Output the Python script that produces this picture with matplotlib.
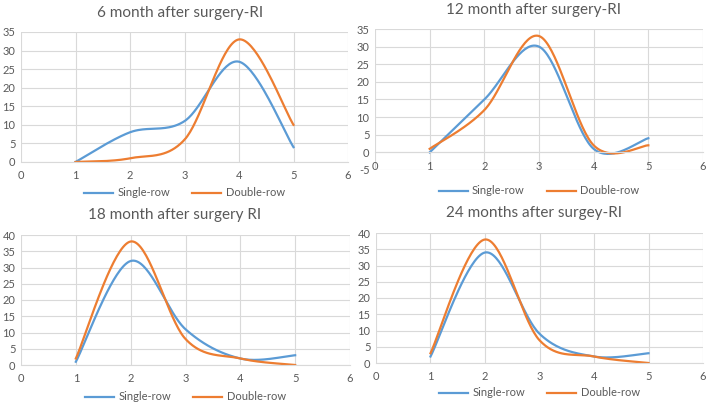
import numpy as np
from matplotlib import pyplot as plt

plt.rcParams['font.family'] = ['Lato', 'DejaVu Sans']
plt.rcParams['axes.unicode_minus'] = False

x = [1, 2, 3, 4, 5]

titles = ["6 month after surgery-RI", "12 month after surgery-RI",
          "18 month after surgery RI", "24 months after surgey-RI"]
single_6 = [0, 8, 11, 27, 4]
double_6 = [0, 1, 6, 33, 10]
single_12 = [0, 15, 30, 1, 4]
double_12 = [1, 12, 33, 2, 2]
single_18 = [1, 32, 11, 2, 3]
double_18 = [2, 38, 8, 2, 0]
single_24 = [2, 34, 9, 2, 3]
double_24 = [3, 38, 7, 2, 0]

BLUE = '#5B9BD5'
ORANGE = '#ED7D31'
GREY = '#595959'
GRID = '#D9D9D9'

W, H = 709, 404


def smooth(xs, ys, n=40):
    # excel-style smoothed line (cubic bezier, 1/6 tangents)
    p = np.column_stack([xs, ys]).astype(float)
    out = []
    for i in range(len(p) - 1):
        p0 = p[i]
        p3 = p[i + 1]
        prev = p[i - 1] if i > 0 else p[i]
        nxt = p[i + 2] if i + 2 < len(p) else p[i + 1]
        c1 = p0 + (p3 - prev) / 6
        c2 = p3 - (nxt - p0) / 6
        t = np.linspace(0, 1, n)[:, None]
        seg = ((1 - t) ** 3 * p0 + 3 * (1 - t) ** 2 * t * c1
               + 3 * (1 - t) * t ** 2 * c2 + t ** 3 * p3)
        out.append(seg if i == 0 else seg[1:])
    out = np.vstack(out)
    return out[:, 0], out[:, 1]


# pixel boxes: left, right, top, bottom ; ylim ; title pos ; legend y
panels = [
    (21, 348, 32, 162, (0, 35), (180, 13), 193, single_6, double_6),
    (375, 703, 29, 170, (-5, 35), (534, 10), 191, single_12, double_12),
    (21, 350, 235, 365, (0, 40), (175, 215), 397, single_18, double_18),
    (376, 703, 233, 363, (0, 40), (534, 213), 393, single_24, double_24),
]

fig = plt.figure(figsize=(W / 100, H / 100), dpi=100)
fig.patch.set_facecolor('white')

for k, (l, r, t, b, ylim, tpos, legy, s, d) in enumerate(panels):
    ax = fig.add_axes([l / W, 1 - b / H, (r - l) / W, (b - t) / H])
    ax.set_xlim(0, 6)
    ax.set_ylim(*ylim)
    ax.set_xticks(range(0, 7))
    ax.set_yticks(range(ylim[0], ylim[1] + 1, 5))
    ax.grid(True, color=GRID, lw=0.8)
    ax.set_axisbelow(True)
    for sp in ['left', 'right', 'top']:
        ax.spines[sp].set_visible(False)
    ax.spines['bottom'].set_position(('data', 0))
    ax.spines['bottom'].set_color(GRID)
    ax.tick_params(length=0, labelsize=8, colors=GREY)
    ax.tick_params(axis='x', pad=6)
    ax.tick_params(axis='y', pad=4)

    sx, sy = smooth(x, s)
    dx, dy = smooth(x, d)
    ax.plot(sx, sy, color=BLUE, lw=1.6, label='Single-row')
    ax.plot(dx, dy, color=ORANGE, lw=1.6, label='Double-row')

    fig.text(tpos[0] / W, 1 - tpos[1] / H, titles[k], ha='center', va='center',
             fontsize=11, color=GREY)
    fig.legend(handles=ax.get_lines(), loc='center',
               bbox_to_anchor=(((l + r) / 2) / W, 1 - legy / H), ncol=2,
               frameon=False, fontsize=8, labelcolor=GREY, handlelength=2.6,
               columnspacing=2.0, handletextpad=0.4)

fig.savefig('out.png', dpi=100)
